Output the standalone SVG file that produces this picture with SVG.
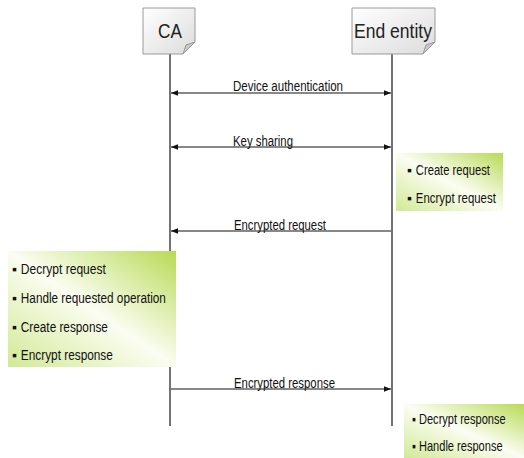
<svg xmlns="http://www.w3.org/2000/svg" width="524" height="458" viewBox="0 0 524 458">
<defs>
<linearGradient id="nodeFill" x1="0" y1="0" x2="1" y2="1">
<stop offset="0" stop-color="#ffffff"/>
<stop offset="1" stop-color="#dcdcdc"/>
</linearGradient>
<linearGradient id="noteFill" x1="1" y1="0" x2="0" y2="1">
<stop offset="0" stop-color="#b8da55"/>
<stop offset="0.5" stop-color="#fbfdf2"/>
<stop offset="1" stop-color="#d2e996"/>
</linearGradient>
<marker id="ah" viewBox="0 0 10 10" refX="10" refY="5" markerWidth="7" markerHeight="7" orient="auto-start-reverse" markerUnits="userSpaceOnUse">
<path d="M0,1 L10,5 L0,9 Z" fill="#111"/>
</marker>
</defs>
<style>
.node{fill:url(#nodeFill);stroke:#9a9a9a;stroke-width:1}
.fold{fill:#c8c8c8;stroke:#9a9a9a;stroke-width:1}
.title{font-family:"Liberation Sans",Arial,sans-serif;font-size:21px;fill:#222}
.life{stroke:#444;stroke-width:1.5;fill:none}
.msg{stroke:#111;stroke-width:1;fill:none}
.lbl{font-family:"Liberation Sans",Arial,sans-serif;font-size:14px;fill:#111}
.note{fill:url(#noteFill)}
.item{font-family:"Liberation Sans",Arial,sans-serif;font-size:14px;fill:#111}
</style>
<rect width="524" height="458" fill="#ffffff"/>

<g id="lifelines">
<line class="life" x1="170" y1="54" x2="170" y2="426"/>
<line class="life" x1="392" y1="54" x2="392" y2="426"/>
</g>

<g id="node-ca">
<path class="node" d="M143,8 H195 V42 L183,54 H143 Z"/>
<path class="fold" d="M183,54 L186,45 L195,42 Z"/>
<text class="title" x="158" y="38" textLength="24" lengthAdjust="spacingAndGlyphs">CA</text>
</g>

<g id="node-ee">
<path class="node" d="M352,8 H435 V42 L423,54 H352 Z"/>
<path class="fold" d="M423,54 L426,45 L435,42 Z"/>
<text class="title" x="354" y="38" textLength="78" lengthAdjust="spacingAndGlyphs">End entity</text>
</g>

<g id="connectors">
<line class="msg" x1="171" y1="93" x2="391" y2="93" marker-start="url(#ah)" marker-end="url(#ah)"/>
<text class="lbl" x="233" y="91" textLength="110" lengthAdjust="spacingAndGlyphs">Device authentication</text>
<line class="msg" x1="171" y1="147" x2="391" y2="147" marker-start="url(#ah)" marker-end="url(#ah)"/>
<text class="lbl" x="233" y="146" textLength="60" lengthAdjust="spacingAndGlyphs">Key sharing</text>
<line class="msg" x1="391" y1="231" x2="171" y2="231" marker-end="url(#ah)"/>
<text class="lbl" x="234" y="230" textLength="92" lengthAdjust="spacingAndGlyphs">Encrypted request</text>
<line class="msg" x1="171" y1="389" x2="391" y2="389" marker-end="url(#ah)"/>
<text class="lbl" x="234" y="388" textLength="101" lengthAdjust="spacingAndGlyphs">Encrypted response</text>
</g>

<g id="note-ee-request">
<rect class="note" x="396" y="153" width="107" height="58"/>
<text class="item" x="407" y="175">▪ <tspan textLength="74" lengthAdjust="spacingAndGlyphs">Create request</tspan></text>
<text class="item" x="407" y="203">▪ <tspan textLength="80" lengthAdjust="spacingAndGlyphs">Encrypt request</tspan></text>
</g>

<g id="note-ca">
<rect class="note" x="8" y="251" width="168" height="116"/>
<text class="item" x="12" y="274">▪ <tspan textLength="85" lengthAdjust="spacingAndGlyphs">Decrypt request</tspan></text>
<text class="item" x="12" y="303">▪ <tspan textLength="145" lengthAdjust="spacingAndGlyphs">Handle requested operation</tspan></text>
<text class="item" x="12" y="332">▪ <tspan textLength="87" lengthAdjust="spacingAndGlyphs">Create response</tspan></text>
<text class="item" x="12" y="360">▪ <tspan textLength="92" lengthAdjust="spacingAndGlyphs">Encrypt response</tspan></text>
</g>

<g id="note-ee-response">
<rect class="note" x="404" y="404" width="120" height="54"/>
<g transform="translate(412,0) scale(0.79,1)">
<text class="item" x="0" y="424">▪ Decrypt response</text>
<text class="item" x="0" y="451">▪ Handle response</text>
</g>
</g>
</svg>
